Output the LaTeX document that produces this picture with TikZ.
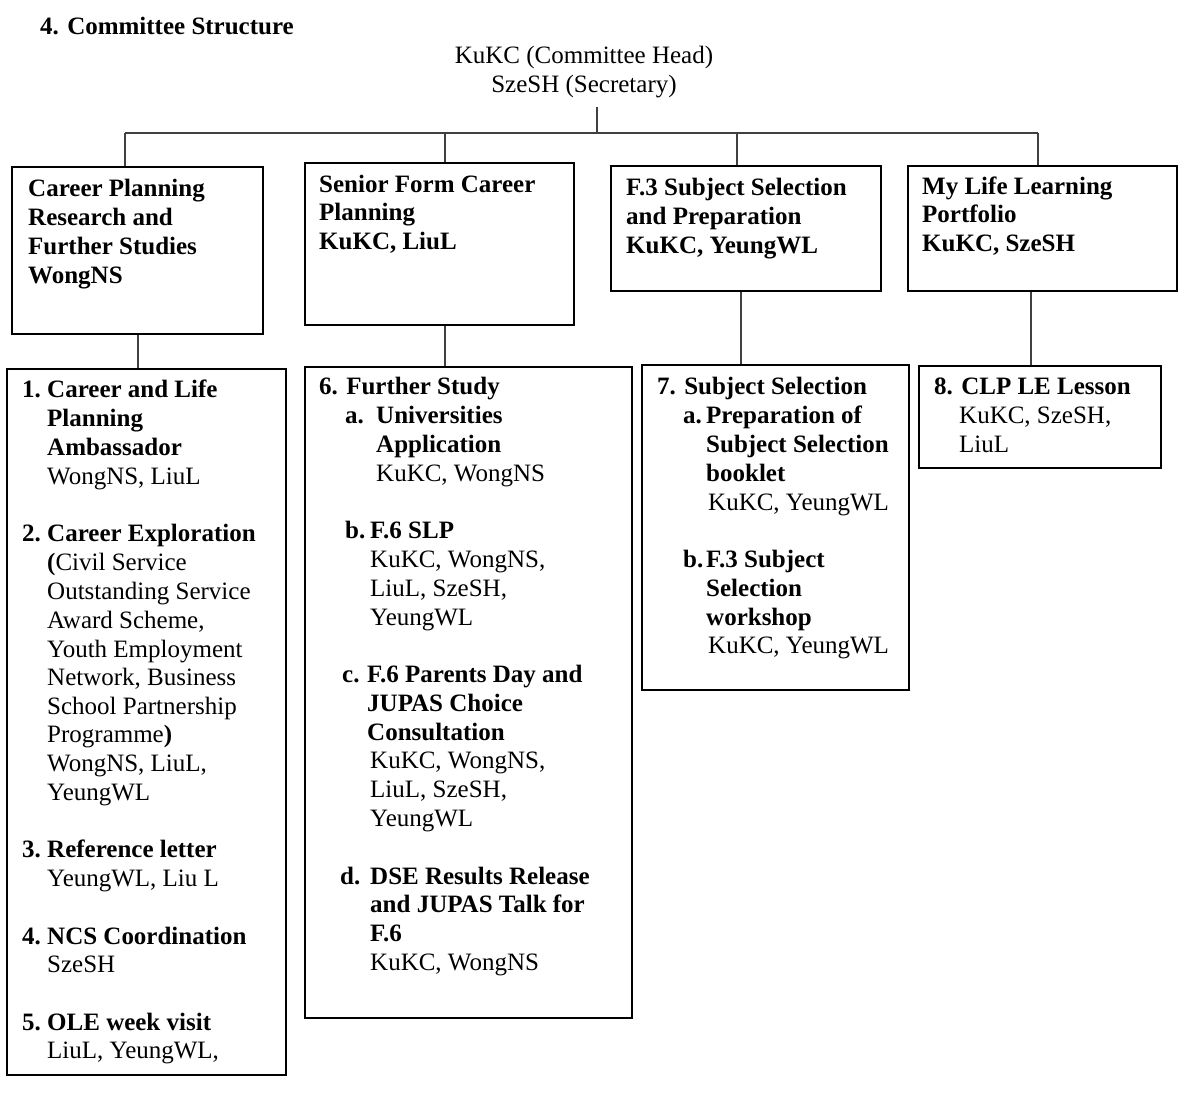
\documentclass[tikz,border=0pt]{standalone}
\usepackage{fontspec}
\setmainfont{Liberation Serif}
\begin{document}
\begin{tikzpicture}[x=1pt,y=-1pt,
  box/.style={draw=black, line width=1.6pt, inner sep=0pt, anchor=north west},
  conn/.style={draw=black!75, line width=1.1pt},
  ln/.style={anchor=base west, inner sep=0pt, font=\fontsize{25}{29}\selectfont},
  lb/.style={ln, font=\fontsize{25}{29}\selectfont\bfseries},
  ctr/.style={anchor=base, inner sep=0pt, font=\fontsize{25}{29}\selectfont}]
\useasboundingbox (0,0) rectangle (1200,1104);
\fill[white] (0,0) rectangle (1200,1104);

% title and head
\node[lb] (title) at (40,34) {4. Committee Structure};
\node[ctr] (head1) at (584,63) {KuKC (Committee Head)};
\node[ctr] (head2) at (584,92) {SzeSH (Secretary)};

% level 1 boxes
\node[box, minimum width=251pt, minimum height=167pt] (A) at (11,166) {};
\node[box, minimum width=269pt, minimum height=162pt] (B) at (304,162) {};
\node[box, minimum width=270pt, minimum height=125pt] (C) at (610,165) {};
\node[box, minimum width=269pt, minimum height=125pt] (D) at (907,165) {};

% level 2 boxes
\node[box, minimum width=279pt, minimum height=706pt] (E) at (6,368) {};
\node[box, minimum width=327pt, minimum height=651pt] (F) at (304,366) {};
\node[box, minimum width=267pt, minimum height=325pt] (G) at (641,364) {};
\node[box, minimum width=242pt, minimum height=102pt] (H) at (918,365) {};

% connectors
\coordinate (htop) at (597,107);
\coordinate (hbar) at (597,133);
\coordinate (busL) at (125,133);
\coordinate (busB) at (445,133);
\coordinate (busC) at (737,133);
\coordinate (busR) at (1038,133);
\draw[conn] (htop) -- (hbar);
\draw[conn] (busL) -- (busR);
\draw[conn] (busL) -- (busL |- A.north);
\draw[conn] (busB) -- (busB |- B.north);
\draw[conn] (busC) -- (busC |- C.north);
\draw[conn] (busR) -- (busR |- D.north);
\draw[conn] (138,0 |- A.south) -- (138,0 |- E.north);
\draw[conn] (445,0 |- B.south) -- (445,0 |- F.north);
\draw[conn] (741,0 |- C.south) -- (741,0 |- G.north);
\draw[conn] (1031,0 |- D.south) -- (1031,0 |- H.north);

% box A text
\node[lb] (a1) at (28,196) {Career Planning};
\node[lb] (a2) at (28,225) {Research and};
\node[lb] (a3) at (28,254) {Further Studies};
\node[lb] (a4) at (28,283) {WongNS};

% box B text
\node[lb] (b1) at (319,192) {Senior Form Career};
\node[lb] (b2) at (319,220) {Planning};
\node[lb] (b3) at (319,249) {KuKC, LiuL};

% box C text
\node[lb] (c1) at (626,195) {F.3 Subject Selection};
\node[lb] (c2) at (626,224) {and Preparation};
\node[lb] (c3) at (626,253) {KuKC, YeungWL};

% box D text
\node[lb] (d1) at (922,194) {My Life Learning};
\node[lb] (d2) at (922,222) {Portfolio};
\node[lb] (d3) at (922,251) {KuKC, SzeSH};

% box E text
\node[lb] (e1n) at (22,397) {1.};
\node[lb] (e1a) at (47,397) {Career and Life};
\node[lb] (e1b) at (47,426) {Planning};
\node[lb] (e1c) at (47,455) {Ambassador};
\node[ln] (e1d) at (47,484) {WongNS, LiuL};
\node[lb] (e2n) at (22,541) {2.};
\node[lb] (e2a) at (47,541) {Career Exploration};
\node[ln] (e2b) at (47,570) {\textbf{(}Civil Service};
\node[ln] (e2c) at (47,599) {Outstanding Service};
\node[ln] (e2d) at (47,628) {Award Scheme,};
\node[ln] (e2e) at (47,657) {Youth Employment};
\node[ln] (e2f) at (47,685) {Network, Business};
\node[ln] (e2g) at (47,714) {School Partnership};
\node[ln] (e2h) at (47,742) {Programme\textbf{)}};
\node[ln] (e2i) at (47,771) {WongNS, LiuL,};
\node[ln] (e2j) at (47,800) {YeungWL};
\node[lb] (e3n) at (22,857) {3.};
\node[lb] (e3a) at (47,857) {Reference letter};
\node[ln] (e3b) at (47,886) {YeungWL, Liu L};
\node[lb] (e4n) at (22,944) {4.};
\node[lb] (e4a) at (47,944) {NCS Coordination};
\node[ln] (e4b) at (47,972) {SzeSH};
\node[lb] (e5n) at (22,1030) {5.};
\node[lb] (e5a) at (47,1030) {OLE week visit};
\node[ln] (e5b) at (47,1058) {LiuL, YeungWL,};

% box F text
\node[lb] (f0) at (319,394) {6. Further Study};
\node[lb] (fan) at (345,423) {a.};
\node[lb] (fa1) at (376,423) {Universities};
\node[lb] (fa2) at (376,452) {Application};
\node[ln] (fa3) at (376,481) {KuKC, WongNS};
\node[lb] (fbn) at (345,538) {b.};
\node[lb] (fb1) at (370,538) {F.6 SLP};
\node[ln] (fb2) at (370,567) {KuKC, WongNS,};
\node[ln] (fb3) at (370,596) {LiuL, SzeSH,};
\node[ln] (fb4) at (370,625) {YeungWL};
\node[lb] (fcn) at (342,682) {c.};
\node[lb] (fc1) at (367,682) {F.6 Parents Day and};
\node[lb] (fc2) at (367,711) {JUPAS Choice};
\node[lb] (fc3) at (367,740) {Consultation};
\node[ln] (fc4) at (370,768) {KuKC, WongNS,};
\node[ln] (fc5) at (370,797) {LiuL, SzeSH,};
\node[ln] (fc6) at (370,826) {YeungWL};
\node[lb] (fdn) at (340,884) {d.};
\node[lb] (fd1) at (370,884) {DSE Results Release};
\node[lb] (fd2) at (370,912) {and JUPAS Talk for};
\node[lb] (fd3) at (370,941) {F.6};
\node[ln] (fd4) at (370,970) {KuKC, WongNS};

% box G text
\node[lb] (g0) at (657,394) {7. Subject Selection};
\node[lb] (gan) at (683,423) {a.};
\node[lb] (ga1) at (706,423) {Preparation of};
\node[lb] (ga2) at (706,452) {Subject Selection};
\node[lb] (ga3) at (706,481) {booklet};
\node[ln] (ga4) at (708,510) {KuKC, YeungWL};
\node[lb] (gbn) at (683,567) {b.};
\node[lb] (gb1) at (706,567) {F.3 Subject};
\node[lb] (gb2) at (706,596) {Selection};
\node[lb] (gb3) at (706,625) {workshop};
\node[ln] (gb4) at (708,653) {KuKC, YeungWL};

% box H text
\node[lb] (h0) at (934,394) {8. CLP LE Lesson};
\node[ln] (h1) at (959,423) {KuKC, SzeSH,};
\node[ln] (h2) at (959,452) {LiuL};
\end{tikzpicture}
\end{document}
